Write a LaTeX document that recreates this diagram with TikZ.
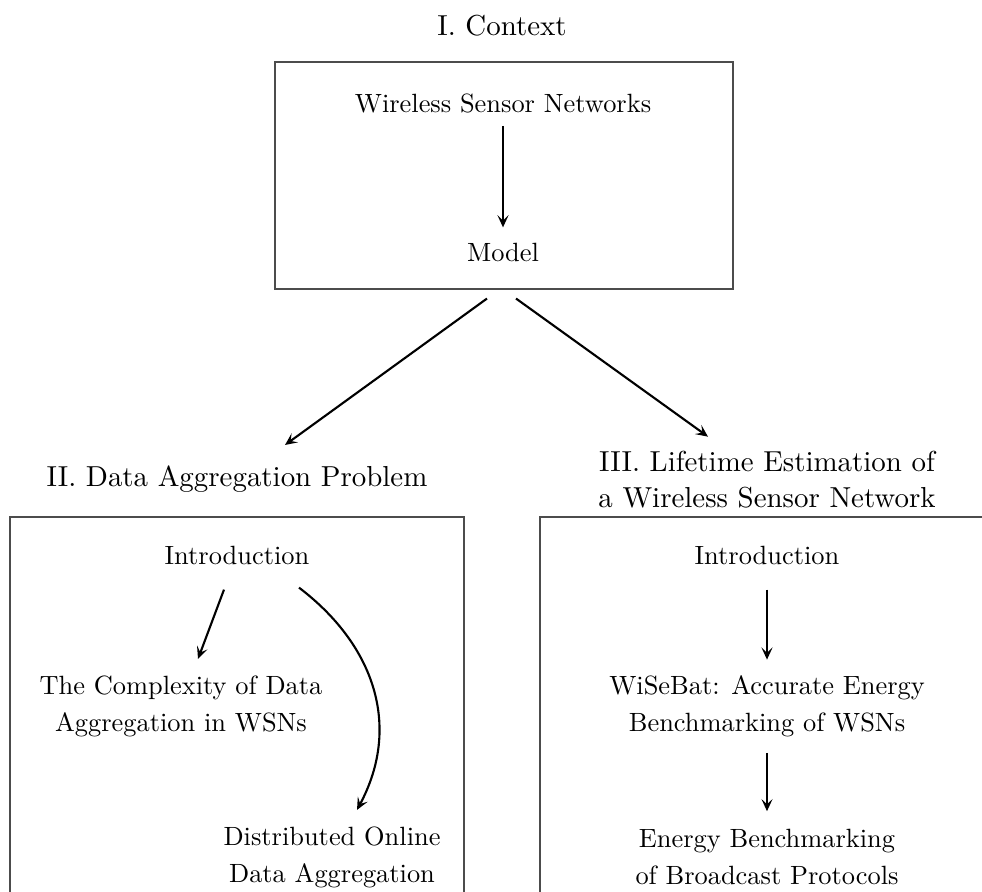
\documentclass[tikz,border=0pt]{standalone}
\usetikzlibrary{calc,fit,arrows.meta}
\begin{document}
\begin{tikzpicture}[x=0.3788pt, y=-0.3788pt,
  inner/.style={font=\fontsize{10}{13.7}\selectfont, align=center, anchor=base},
  head/.style={font=\fontsize{10.95}{13.5}\selectfont, align=center, anchor=base},
  frame/.style={draw=black!70, line width=0.4pt, inner sep=0pt},
  arr/.style={-{Stealth[length=4.6pt,width=4.2pt,inset=2pt]}, thick}]
\useasboundingbox (0,0) rectangle (982,891);
\clip (0,0) rectangle (982,891);
% top
\node[head] (ctx) at (502,35) {I. Context};
\node[frame, fit={(275,62) (733,289)}] (topbox) {};
\node[inner] (wsn) at (503,112) {Wireless Sensor Networks};
\node[inner] (model) at (503,261) {Model};
% headers (base = baseline of the last line)
\node[head] (h2) at (237,486) {II. Data Aggregation Problem};
\node[head] (h3) at (767,507) {III. Lifetime Estimation of\\a Wireless Sensor Network};
% boxes
\node[frame, fit={(10,517) (464,940)}] (box2) {};
\node[frame, fit={(540,517) (1010,940)}] (box3) {};
% left contents
\node[inner] (intro2) at (237,564) {Introduction};
\node[inner] (complexity) at (181,731) {The Complexity of Data\\Aggregation in WSNs};
\node[inner] (distributed) at (332,882) {Distributed Online\\Data Aggregation};
% right contents
\node[inner] (intro3) at (767,564) {Introduction};
\node[inner] (wisebat) at (767,731) {WiSeBat: Accurate Energy\\Benchmarking of WSNs};
\node[inner] (energy) at (767,884) {Energy Benchmarking\\of Broadcast Protocols};
% arrows
\draw[arr] ($(wsn.south)+(0,4)$) -- ($(model.north)+(0,-6)$);
\draw[arr] ($(topbox.south)+(-17,9)$) -- ($(h2.north)+(48,-11)$);
\draw[arr] ($(topbox.south)+(12,9)$) -- ($(h3.north)+(-59,-5)$);
\draw[arr] ($(intro2.south)+(-13,16)$) -- ($(complexity.north)+(17,-8)$);
\draw[arr] ($(intro2.south)+(62,14)$) .. controls +(75,57) and +(45,-84) .. ($(distributed.north)+(25,-8)$);
\draw[arr] ($(intro3.south)+(0,16)$) -- ($(wisebat.north)+(0,-7)$);
\draw[arr] ($(wisebat.south)+(0,7)$) -- ($(energy.north)+(0,-9)$);
\end{tikzpicture}
\end{document}
